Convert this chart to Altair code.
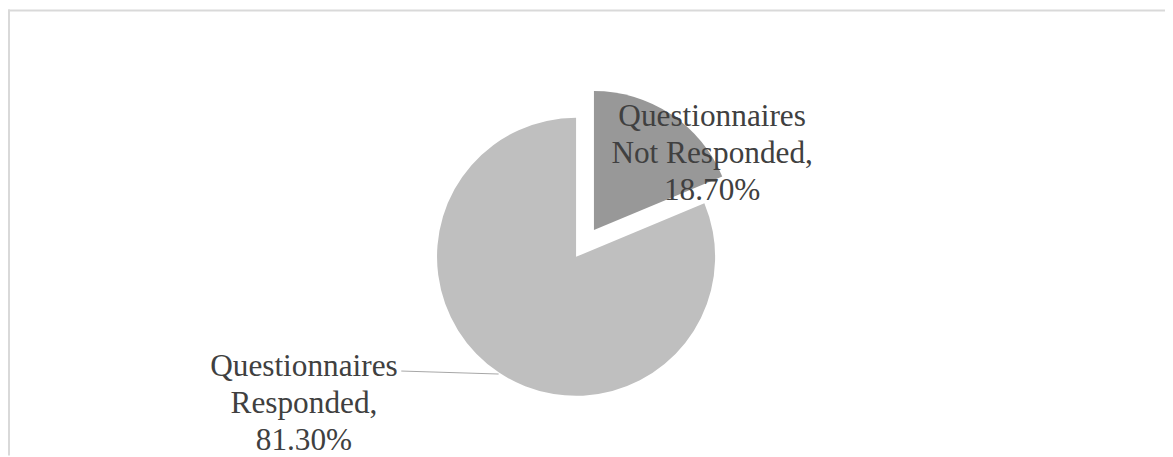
import altair as alt
import pandas as pd

categories = ["Questionnaires Not Responded", "Questionnaires Responded"]
values = [18.70, 81.30]
label_lines = ["Questionnaires\nNot Responded,", "Questionnaires\nResponded,"]
colors = ["#989898", "#bfbfbf"]

df = pd.DataFrame({
    "category": categories,
    "value": values,
    "label": [f"{l}\n{v:.2f}%" for l, v in zip(label_lines, values)],
    "order": [0, 1],
})

W, H = 1165, 449
CX, CY, R = 572, 249, 140
EX, EY = 18, -27  # explosion offset of the small slice

base = alt.Chart(df).transform_window(
    end="sum(value)", sort=[alt.SortField("order")], frame=[None, 0]
).transform_calculate(start="datum.end - datum.value")

color = alt.Color("category:N", scale=alt.Scale(domain=categories, range=colors), legend=None)
theta_scale = alt.Scale(domain=[0, 100])

big = base.transform_filter(alt.datum.category == categories[1]).mark_arc(radius=R).encode(
    theta=alt.Theta("start:Q", scale=theta_scale),
    theta2="end:Q",
    color=color,
    x=alt.value(CX), y=alt.value(CY),
)
small = base.transform_filter(alt.datum.category == categories[0]).mark_arc(radius=R).encode(
    theta=alt.Theta("start:Q", scale=theta_scale),
    theta2="end:Q",
    color=color,
    x=alt.value(CX + EX), y=alt.value(CY + EY),
)

text_props = dict(font="Liberation Serif", fontSize=31.5, color="#404040",
                  align="center", baseline="middle", lineBreak="\n", lineHeight=37.5)

lab_small = base.transform_filter(alt.datum.category == categories[0]).mark_text(**text_props).encode(
    text="label:N", x=alt.value(709), y=alt.value(108)
)
lab_big = base.transform_filter(alt.datum.category == categories[1]).mark_text(**text_props).encode(
    text="label:N", x=alt.value(298), y=alt.value(359.5)
)

leader = alt.Chart(df.head(1)).mark_rule(color="#a6a6a6", strokeWidth=1).encode(
    x=alt.value(396), y=alt.value(364), x2=alt.value(494), y2=alt.value(367)
)

border_top = alt.Chart(df.head(1)).mark_rule(color="#d9d9d9", strokeWidth=2).encode(
    x=alt.value(0), x2=alt.value(W), y=alt.value(1)
)
border_left = alt.Chart(df.head(1)).mark_rule(color="#d9d9d9", strokeWidth=2).encode(
    x=alt.value(1), y=alt.value(0), y2=alt.value(H)
)

chart = alt.layer(big, small, leader, lab_small, lab_big, border_top, border_left).properties(
    width=W, height=H, padding=0, autosize=alt.AutoSizeParams(type="none")
).configure_view(stroke=None)

chart.save("out.html", embed_options={"renderer": "svg", "actions": False})
